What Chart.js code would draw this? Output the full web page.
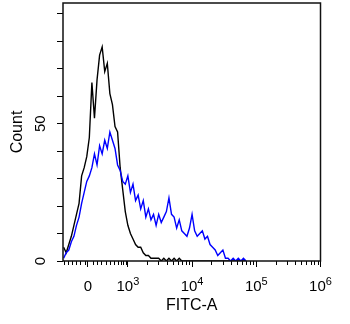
<!DOCTYPE html>
<html>
<head>
<meta charset="utf-8">
<script src="https://cdn.jsdelivr.net/npm/chart.js@4/dist/chart.umd.min.js"></script>
<style>
    html, body { margin: 0; padding: 0; background: #fff; }
    #wrap { width: 350px; height: 324px; }
</style>
</head>
<body>
<div id="wrap"><canvas id="myChart"></canvas></div>
<script>
// bin centres, in axis display units (decades: 3 = 10^3)
const bins = [
    2.00, 2.04, 2.08, 2.12, 2.16, 2.20, 2.24, 2.28, 2.32, 2.36,
    2.40, 2.44, 2.48, 2.52, 2.56, 2.60, 2.64, 2.68, 2.72, 2.76,
    2.80, 2.84, 2.88, 2.92, 2.96, 3.00, 3.04, 3.08, 3.12, 3.16,
    3.20, 3.24, 3.28, 3.32, 3.36, 3.40, 3.44, 3.48, 3.52, 3.56,
    3.60, 3.64, 3.68, 3.72, 3.76, 3.80, 3.84, 3.88, 3.92, 3.96,
    4.00, 4.04, 4.08, 4.12, 4.16, 4.20, 4.24, 4.28, 4.32, 4.36,
    4.40, 4.44, 4.48, 4.52, 4.56, 4.60, 4.64, 4.68, 4.72, 4.76,
    4.80, 4.84
];

// control (black)
const controlCounts = [
    5, 3, 6, 9, 13, 17, 21, 31, 34, 38,
    45, 65, 52, 66, 75, 78, 69, 72, 61, 57,
    49, 47, 34, 26, 18, 13, 10, 8, 6, 5,
    5, 3, 2, 2, 1, 1, 1, 1, 0, 1,
    0, 1, 0, 1, 0, 1, 0, 0, 0, 0,
    0, 0, 0, 0, 0, 0, 0, 0, 0, 0,
    0, 0, 0, 0, 0, 0, 0, 0, 0, 0,
    0, 0
];

// stained (blue)
const stainedCounts = [
    1, 3, 4, 7, 9, 13, 16, 21, 25, 29,
    31, 34, 39, 35, 42, 39, 44, 41, 47, 44,
    41, 35, 33, 29, 28, 31, 25, 28, 22, 24,
    19, 22, 16, 19, 15, 17, 13, 17, 14, 16,
    18, 23, 17, 16, 12, 15, 11, 10, 9, 12,
    17, 11, 9, 10, 11, 8, 9, 6, 5, 4,
    2, 3, 4, 1, 1, 0, 1, 0, 1, 0,
    1, 0
];

const xMajorTicks = [2.377, 3, 4, 5, 6];
const xTickBase = ['0', '10', '10', '10', '10'];
const xTickExp = ['', '3', '4', '5', '6'];
const xMinorTicks = [
    2.008, 2.065, 2.128, 2.195, 2.257, 2.326,
    2.450, 2.522, 2.584, 2.653, 2.715, 2.782, 2.844, 2.886, 2.927, 2.964,
    3.301, 3.477, 3.602, 3.699, 3.778, 3.845, 3.903, 3.954,
    4.301, 4.477, 4.602, 4.699, 4.778, 4.845, 4.903, 4.954,
    5.301, 5.477, 5.602, 5.699, 5.778, 5.845, 5.903, 5.954
];
const yLabelled = [0, 50];

const FAMILY = '"Liberation Sans", Arial, sans-serif';
const FONT = { family: FAMILY, size: 16 };

function toPoints(counts) {
    return bins.map((b, i) => ({ x: b, y: counts[i] }));
}

// frame round the plot, minor x ticks and the 10^n labels
const framePlugin = {
    id: 'frame',
    afterDraw(chart) {
        const ctx = chart.ctx;
        const a = chart.chartArea;
        const xs = chart.scales.x;
        ctx.save();
        ctx.strokeStyle = '#000';
        ctx.lineWidth = 1;
        ctx.beginPath();
        for (let v of xMinorTicks) {
            const px = Math.round(xs.getPixelForValue(v)) + 0.5;
            ctx.moveTo(px, a.bottom);
            ctx.lineTo(px, a.bottom + 4);
        }
        ctx.stroke();

        ctx.fillStyle = '#000';
        ctx.textBaseline = 'alphabetic';
        ctx.textAlign = 'left';
        const base = a.bottom + 29.5;
        for (let i = 0; i < xMajorTicks.length; i++) {
            const px = xs.getPixelForValue(xMajorTicks[i]);
            ctx.font = '15px ' + FAMILY;
            const w1 = ctx.measureText(xTickBase[i]).width;
            ctx.font = '11px ' + FAMILY;
            const w2 = xTickExp[i] ? ctx.measureText(xTickExp[i]).width : 0;
            const x0 = px - (w1 + w2) / 2;
            ctx.font = '15px ' + FAMILY;
            ctx.fillText(xTickBase[i], x0, base);
            if (xTickExp[i]) {
                ctx.font = '11px ' + FAMILY;
                ctx.fillText(xTickExp[i], x0 + w1, base - 5.5);
            }
        }

        ctx.lineWidth = 1.5;
        ctx.strokeStyle = '#111';
        ctx.strokeRect(a.left, a.top, a.right - a.left, a.bottom - a.top);
        ctx.restore();
    }
};

var ctx = document.getElementById('myChart').getContext('2d');

var myChart = new Chart(ctx, { // eslint-disable-line
    type: 'line',
    data: {
        datasets: [
            {
                label: 'Stained',
                data: toPoints(stainedCounts),
                borderColor: '#0000ff',
                borderWidth: 1.4,
                pointRadius: 0,
                tension: 0,
                fill: false
            },
            {
                label: 'Control',
                data: toPoints(controlCounts),
                borderColor: '#000000',
                borderWidth: 1.4,
                pointRadius: 0,
                tension: 0,
                fill: false
            }
        ]
    },
    options: {
        responsive: true,
        maintainAspectRatio: false,
        animation: false,
        layout: { padding: { top: 3, right: 29.5, left: 0, bottom: 0 } },
        plugins: {
            legend: { display: false },
            tooltip: { enabled: false }
        },
        scales: {
            x: {
                type: 'linear',
                min: 1.99,
                max: 6.0,
                afterBuildTicks: (s) => {
                    s.ticks = xMajorTicks.map(v => ({ value: v }));
                },
                afterFit: (s) => {
                    s.height = 63;
                    s.paddingLeft = 0;
                    s.paddingRight = 0;
                },
                ticks: {
                    display: false
                },
                grid: {
                    drawOnChartArea: false,
                    tickLength: 6,
                    color: '#000',
                    tickWidth: 1
                },
                border: { display: false },
                title: {
                    display: true,
                    text: 'FITC-A',
                    color: '#000',
                    font: FONT,
                    padding: { top: 0, bottom: 9 }
                }
            },
            y: {
                min: 0,
                max: 94,
                afterFit: (s) => {
                    s.width = 63;
                    s.paddingTop = 0;
                    s.paddingBottom = 0;
                },
                ticks: {
                    stepSize: 10,
                    includeBounds: false,
                    minRotation: 90,
                    maxRotation: 90,
                    crossAlign: 'center',
                    padding: 8,
                    color: '#000',
                    font: { family: FAMILY, size: 15 },
                    callback: (v) => yLabelled.includes(v) ? String(v) : ''
                },
                grid: {
                    drawOnChartArea: false,
                    tickLength: 6,
                    color: '#000',
                    tickWidth: 1
                },
                border: { display: false },
                title: {
                    display: true,
                    text: 'Count',
                    color: '#000',
                    font: FONT,
                    padding: { top: 8, bottom: 0 }
                }
            }
        }
    },
    plugins: [framePlugin]
});
</script>
</body>
</html>
